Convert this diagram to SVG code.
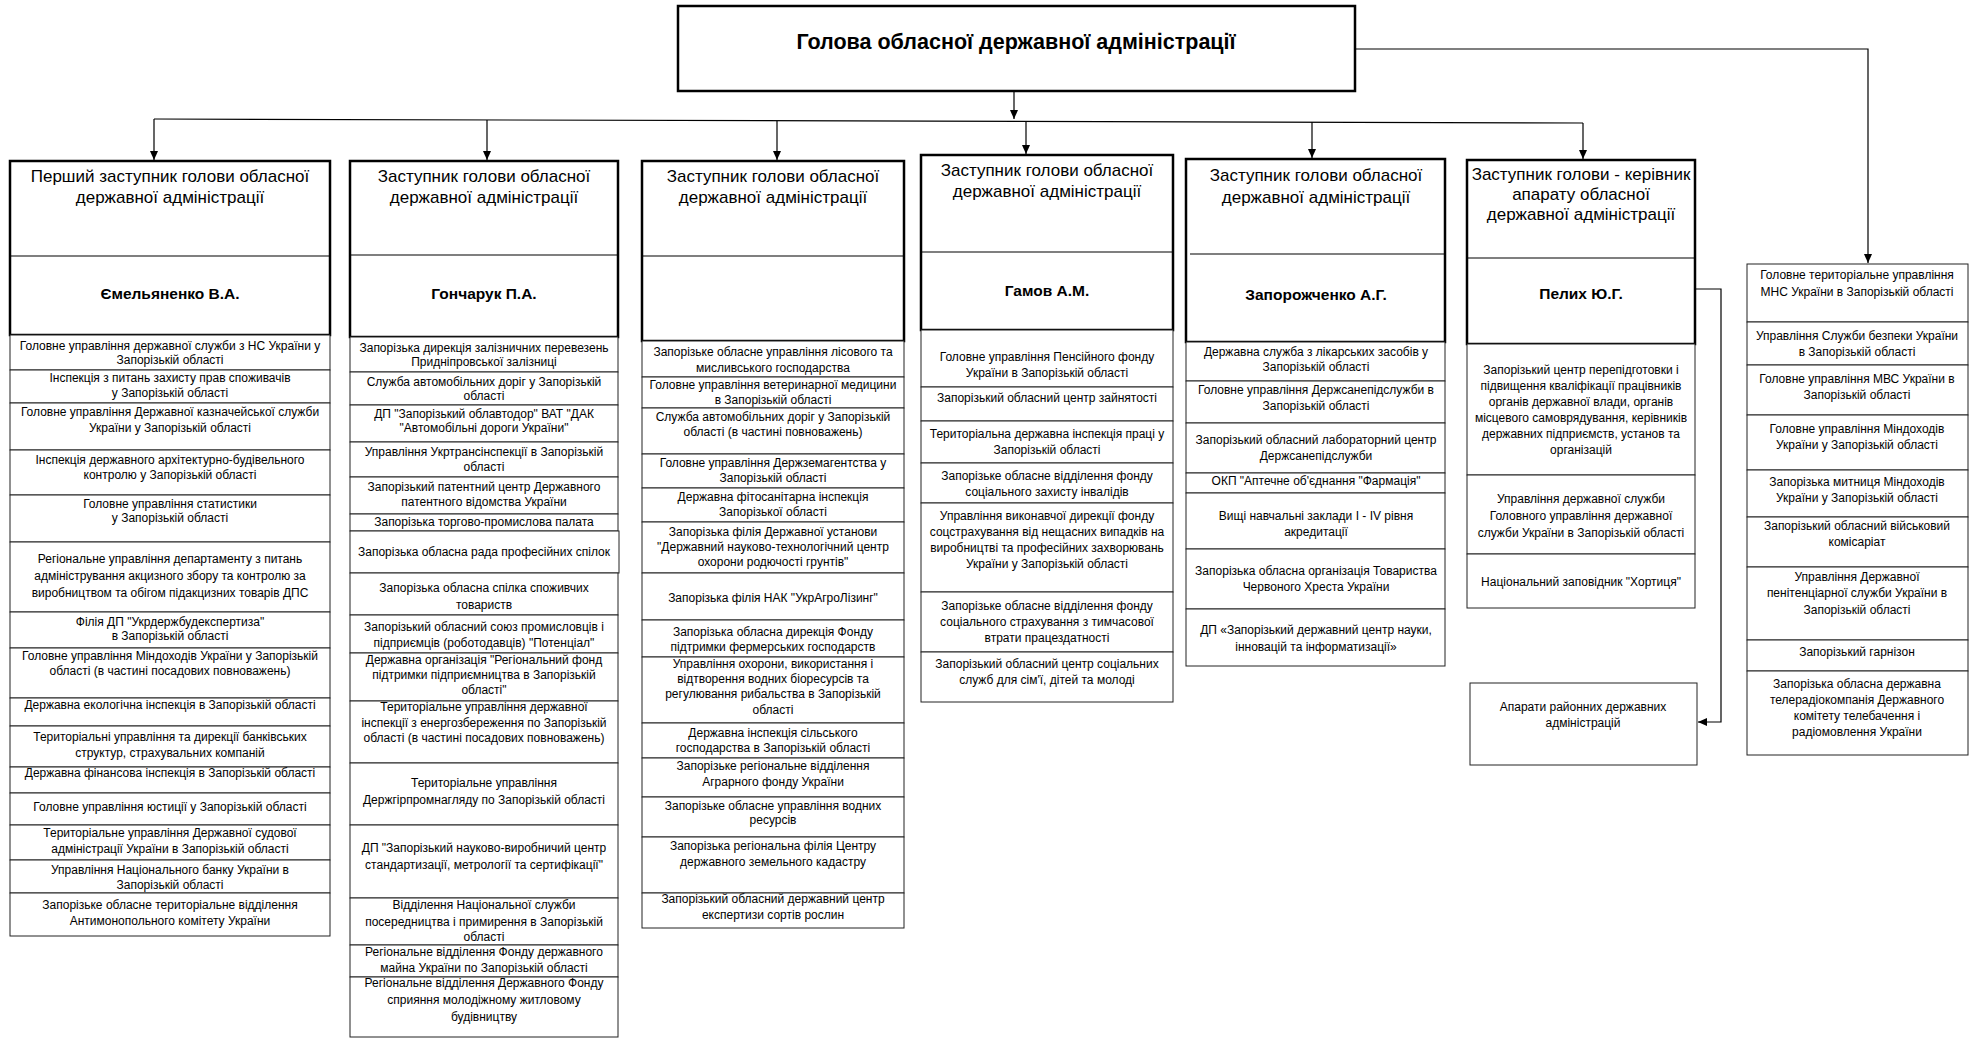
<svg xmlns="http://www.w3.org/2000/svg" width="1975" height="1039" viewBox="0 0 1975 1039">
<style>
.bg{fill:#fff}
.hdr{fill:#fff;stroke:#000;stroke-width:2.5}
.div{stroke:#000;stroke-width:1.2}
.row{fill:#fff;stroke:#222;stroke-width:1}
text{font-family:"Liberation Sans",Arial,sans-serif;text-anchor:middle;dominant-baseline:central;fill:#000}
.t{font-size:12px}
.h{font-size:17px}
.n{font-size:15.5px;font-weight:bold}
.ttl{font-size:21.5px;font-weight:bold}
.conn{stroke:#000;stroke-width:1.2;fill:none}
</style>
<defs>
<marker id="arr" markerUnits="userSpaceOnUse" markerWidth="10" markerHeight="10" refX="9" refY="5" orient="auto">
<path d="M0,1 L9,5 L0,9 z" fill="#000"/>
</marker>
</defs>
<rect class="bg" x="0" y="0" width="1975" height="1039"/>

<g id="connectors">
<line class="conn" x1="1014" y1="91" x2="1014" y2="119" marker-end="url(#arr)"/>
<line class="conn" x1="154" y1="119" x2="1583" y2="123"/>
<line class="conn" x1="154" y1="119" x2="154" y2="160" marker-end="url(#arr)"/>
<line class="conn" x1="487" y1="120" x2="487" y2="160" marker-end="url(#arr)"/>
<line class="conn" x1="777" y1="121" x2="777" y2="160" marker-end="url(#arr)"/>
<line class="conn" x1="1026" y1="121" x2="1026" y2="154" marker-end="url(#arr)"/>
<line class="conn" x1="1312" y1="122" x2="1312" y2="158" marker-end="url(#arr)"/>
<line class="conn" x1="1583" y1="123" x2="1583" y2="159" marker-end="url(#arr)"/>
<polyline class="conn" points="1355,49 1868,49 1868,263" marker-end="url(#arr)"/>
<polyline class="conn" points="1695,289 1721,289 1721,722 1698,722" marker-end="url(#arr)"/>
</g>

<g id="head">
<rect class="hdr" x="678" y="6" width="677" height="85" stroke-width="3"/>
<text class="ttl" x="1016" y="42">Голова обласної державної адміністрації</text>
</g>

<!-- Column 1 -->
<g id="c1h">
<rect class="hdr" x="10" y="161" width="320" height="174"/>
<line class="div" x1="10" y1="256" x2="330" y2="256"/>
<text class="h" x="170" y="176">Перший заступник голови обласної</text>
<text class="h" x="170" y="197">державної адміністрації</text>
<text class="n" x="170" y="293">Ємельяненко В.А.</text>
</g>
<g id="c1r1"><rect class="row" x="10" y="335" width="320" height="35"/><text class="t" x="170" y="346">Головне управління державної служби з НС України у</text><text class="t" x="170" y="360">Запорізькій області</text></g>
<g id="c1r2"><rect class="row" x="10" y="370" width="320" height="33"/><text class="t" x="170" y="378">Інспекція з питань захисту прав споживачів</text><text class="t" x="170" y="393">у Запорізькій області</text></g>
<g id="c1r3"><rect class="row" x="10" y="403" width="320" height="47"/><text class="t" x="170" y="412">Головне управління Державної казначейської служби</text><text class="t" x="170" y="428">України у Запорізькій області</text></g>
<g id="c1r4"><rect class="row" x="10" y="450" width="320" height="45"/><text class="t" x="170" y="460">Інспекція державного архітектурно-будівельного</text><text class="t" x="170" y="475">контролю у Запорізькій області</text></g>
<g id="c1r5"><rect class="row" x="10" y="495" width="320" height="47"/><text class="t" x="170" y="504">Головне управління статистики</text><text class="t" x="170" y="518">у Запорізькій області</text></g>
<g id="c1r6"><rect class="row" x="10" y="542" width="320" height="70"/><text class="t" x="170" y="559">Регіональне управління департаменту з питань</text><text class="t" x="170" y="576">адміністрування акцизного збору та контролю за</text><text class="t" x="170" y="593">виробництвом та обігом підакцизних товарів ДПС</text></g>
<g id="c1r7"><rect class="row" x="10" y="612" width="320" height="36"/><text class="t" x="170" y="622">Філія ДП "Укрдержбудекспертиза"</text><text class="t" x="170" y="636">в Запорізькій області</text></g>
<g id="c1r8"><rect class="row" x="10" y="648" width="320" height="50"/><text class="t" x="170" y="656">Головне управління Міндоходів України у Запорізькій</text><text class="t" x="170" y="671">області (в частині посадових повноважень)</text></g>
<g id="c1r9"><rect class="row" x="10" y="698" width="320" height="28"/><text class="t" x="170" y="705">Державна екологічна інспекція в Запорізькій області</text></g>
<g id="c1r10"><rect class="row" x="10" y="726" width="320" height="41"/><text class="t" x="170" y="737">Територіальні управління та дирекції банківських</text><text class="t" x="170" y="753">структур, страхувальних компаній</text></g>
<g id="c1r11"><rect class="row" x="10" y="767" width="320" height="26"/><text class="t" x="170" y="773">Державна фінансова інспекція в Запорізькій області</text></g>
<g id="c1r12"><rect class="row" x="10" y="793" width="320" height="32"/><text class="t" x="170" y="807">Головне управління юстиції у Запорізькій області</text></g>
<g id="c1r13"><rect class="row" x="10" y="825" width="320" height="35"/><text class="t" x="170" y="833">Територіальне управління Державної судової</text><text class="t" x="170" y="849">адміністрації України в Запорізькій області</text></g>
<g id="c1r14"><rect class="row" x="10" y="860" width="320" height="33"/><text class="t" x="170" y="870">Управління Національного банку України в</text><text class="t" x="170" y="885">Запорізькій області</text></g>
<g id="c1r15"><rect class="row" x="10" y="893" width="320" height="43"/><text class="t" x="170" y="905">Запорізьке обласне територіальне відділення</text><text class="t" x="170" y="921">Антимонопольного комітету України</text></g>

<!-- Column 2 -->
<g id="c2h">
<rect class="hdr" x="350" y="161" width="268" height="176"/>
<line class="div" x1="350" y1="255" x2="618" y2="255"/>
<text class="h" x="484" y="176">Заступник голови обласної</text>
<text class="h" x="484" y="197">державної адміністрації</text>
<text class="n" x="484" y="293">Гончарук П.А.</text>
</g>
<g id="c2r1"><rect class="row" x="350" y="337" width="268" height="35"/><text class="t" x="484" y="348">Запорізька дирекція залізничних перевезень</text><text class="t" x="484" y="362">Придніпровської залізниці</text></g>
<g id="c2r2"><rect class="row" x="350" y="372" width="268" height="33"/><text class="t" x="484" y="382">Служба автомобільних доріг  у Запорізькій</text><text class="t" x="484" y="396">області</text></g>
<g id="c2r3"><rect class="row" x="350" y="405" width="268" height="37"/><text class="t" x="484" y="414">ДП "Запорізький облавтодор" ВАТ "ДАК</text><text class="t" x="484" y="428">"Автомобільні дороги України"</text></g>
<g id="c2r4"><rect class="row" x="350" y="442" width="268" height="35"/><text class="t" x="484" y="452">Управління Укртрансінспекції  в Запорізькій</text><text class="t" x="484" y="467">області</text></g>
<g id="c2r5"><rect class="row" x="350" y="477" width="268" height="37"/><text class="t" x="484" y="487">Запорізький патентний центр Державного</text><text class="t" x="484" y="502">патентного відомства України</text></g>
<g id="c2r6"><rect class="row" x="350" y="514" width="268" height="17"/><text class="t" x="484" y="522">Запорізька торгово-промислова палата</text></g>
<g id="c2r7"><rect class="row" x="350" y="531" width="269" height="42"/><text class="t" x="484" y="552">Запорізька обласна рада професійних спілок</text></g>
<g id="c2r8"><rect class="row" x="350" y="573" width="268" height="42"/><text class="t" x="484" y="588">Запорізька обласна спілка споживчих</text><text class="t" x="484" y="605">товариств</text></g>
<g id="c2r9"><rect class="row" x="350" y="615" width="268" height="38"/><text class="t" x="484" y="627">Запорізький обласний союз промисловців і</text><text class="t" x="484" y="643">підприємців  (роботодавців) "Потенціал"</text></g>
<g id="c2r10"><rect class="row" x="350" y="653" width="268" height="48"/><text class="t" x="484" y="660">Державна організація "Регіональний фонд</text><text class="t" x="484" y="675">підтримки підприємництва в Запорізькій</text><text class="t" x="484" y="690">області"</text></g>
<g id="c2r11"><rect class="row" x="350" y="701" width="268" height="62"/><text class="t" x="484" y="707">Територіальне управління  державної</text><text class="t" x="484" y="723">інспекції з енергозбереження по Запорізькій</text><text class="t" x="484" y="738">області (в частині посадових повноважень)</text></g>
<g id="c2r12"><rect class="row" x="350" y="763" width="268" height="62"/><text class="t" x="484" y="783">Територіальне управління</text><text class="t" x="484" y="800">Держгірпромнагляду по Запорізькій області</text></g>
<g id="c2r13"><rect class="row" x="350" y="825" width="268" height="73"/><text class="t" x="484" y="848">ДП "Запорізький науково-виробничий центр</text><text class="t" x="484" y="865">стандартизації, метрології та сертифікації"</text></g>
<g id="c2r14"><rect class="row" x="350" y="898" width="268" height="47"/><text class="t" x="484" y="905">Відділення Національної служби</text><text class="t" x="484" y="922">посередництва і примирення в Запорізькій</text><text class="t" x="484" y="937">області</text></g>
<g id="c2r15"><rect class="row" x="350" y="945" width="268" height="32"/><text class="t" x="484" y="952">Регіональне відділення Фонду державного</text><text class="t" x="484" y="968">майна України  по Запорізькій області</text></g>
<g id="c2r16"><rect class="row" x="350" y="977" width="268" height="60"/><text class="t" x="484" y="983">Регіональне відділення Державного Фонду</text><text class="t" x="484" y="1000">сприяння молодіжному житловому</text><text class="t" x="484" y="1017">будівництву</text></g>

<!-- Column 3 -->
<g id="c3h">
<rect class="hdr" x="642" y="161" width="262" height="180"/>
<line class="div" x1="642" y1="256" x2="904" y2="256"/>
<text class="h" x="773" y="176">Заступник голови обласної</text>
<text class="h" x="773" y="197">державної адміністрації</text>
</g>
<g id="c3r1"><rect class="row" x="642" y="341" width="262" height="36"/><text class="t" x="773" y="352">Запорізьке обласне управління лісового та</text><text class="t" x="773" y="368">мисливського господарства</text></g>
<g id="c3r2"><rect class="row" x="642" y="377" width="262" height="31"/><text class="t" x="773" y="385">Головне управління ветеринарної медицини</text><text class="t" x="773" y="400">в Запорізькій області</text></g>
<g id="c3r3"><rect class="row" x="642" y="408" width="262" height="46"/><text class="t" x="773" y="417">Служба автомобільних доріг  у Запорізькій</text><text class="t" x="773" y="432">області (в частині повноважень)</text></g>
<g id="c3r4"><rect class="row" x="642" y="454" width="262" height="34"/><text class="t" x="773" y="463">Головне управління Держземагентства у</text><text class="t" x="773" y="478">Запорізькій області</text></g>
<g id="c3r5"><rect class="row" x="642" y="488" width="262" height="34"/><text class="t" x="773" y="497">Державна фітосанітарна інспекція</text><text class="t" x="773" y="512">Запорізької області</text></g>
<g id="c3r6"><rect class="row" x="642" y="522" width="262" height="51"/><text class="t" x="773" y="532">Запорізька філія Державної установи</text><text class="t" x="773" y="547">"Державний науково-технологічний центр</text><text class="t" x="773" y="562">охорони родючості грунтів"</text></g>
<g id="c3r7"><rect class="row" x="642" y="573" width="262" height="47"/><text class="t" x="773" y="598">Запорізька філія НАК "УкрАгроЛізинг"</text></g>
<g id="c3r8"><rect class="row" x="642" y="620" width="262" height="37"/><text class="t" x="773" y="632">Запорізька обласна дирекція Фонду</text><text class="t" x="773" y="647">підтримки фермерських господарств</text></g>
<g id="c3r9"><rect class="row" x="642" y="657" width="262" height="66"/><text class="t" x="773" y="664">Управління охорони, використання і</text><text class="t" x="773" y="679">відтворення водних біоресурсів та</text><text class="t" x="773" y="694">регулювання рибальства в Запорізькій</text><text class="t" x="773" y="710">області</text></g>
<g id="c3r10"><rect class="row" x="642" y="723" width="262" height="35"/><text class="t" x="773" y="733">Державна інспекція сільського</text><text class="t" x="773" y="748">господарства в Запорізькій області</text></g>
<g id="c3r11"><rect class="row" x="642" y="758" width="262" height="39"/><text class="t" x="773" y="766">Запорізьке регіональне відділення</text><text class="t" x="773" y="782">Аграрного фонду України</text></g>
<g id="c3r12"><rect class="row" x="642" y="797" width="262" height="40"/><text class="t" x="773" y="806">Запорізьке обласне  управління  водних</text><text class="t" x="773" y="820">ресурсів</text></g>
<g id="c3r13"><rect class="row" x="642" y="837" width="262" height="56"/><text class="t" x="773" y="846">Запорізька регіональна філія Центру</text><text class="t" x="773" y="862">державного земельного кадастру</text></g>
<g id="c3r14"><rect class="row" x="642" y="893" width="262" height="35"/><text class="t" x="773" y="899">Запорізький обласний державний центр</text><text class="t" x="773" y="915">експертизи сортів рослин</text></g>

<!-- Column 4 -->
<g id="c4h">
<rect class="hdr" x="921" y="155" width="252" height="175"/>
<line class="div" x1="921" y1="252" x2="1173" y2="252"/>
<text class="h" x="1047" y="170">Заступник голови обласної</text>
<text class="h" x="1047" y="191">державної адміністрації</text>
<text class="n" x="1047" y="290">Гамов А.М.</text>
</g>
<g id="c4r1"><rect class="row" x="921" y="330" width="252" height="57"/><text class="t" x="1047" y="357">Головне управління Пенсійного фонду</text><text class="t" x="1047" y="373">України в Запорізькій області</text></g>
<g id="c4r2"><rect class="row" x="921" y="387" width="252" height="34"/><text class="t" x="1047" y="398">Запорізький обласний центр зайнятості</text></g>
<g id="c4r3"><rect class="row" x="921" y="421" width="252" height="42"/><text class="t" x="1047" y="434">Територіальна державна інспекція праці у</text><text class="t" x="1047" y="450">Запорізькій області</text></g>
<g id="c4r4"><rect class="row" x="921" y="463" width="252" height="40"/><text class="t" x="1047" y="476">Запорізьке обласне відділення фонду</text><text class="t" x="1047" y="492">соціального захисту інвалідів</text></g>
<g id="c4r5"><rect class="row" x="921" y="503" width="252" height="89"/><text class="t" x="1047" y="516">Управління виконавчої дирекції фонду</text><text class="t" x="1047" y="532">соцстрахування від нещасних випадків на</text><text class="t" x="1047" y="548">виробництві та професійних захворювань</text><text class="t" x="1047" y="564">України у Запорізькій області</text></g>
<g id="c4r6"><rect class="row" x="921" y="592" width="252" height="60"/><text class="t" x="1047" y="606">Запорізьке обласне відділення фонду</text><text class="t" x="1047" y="622">соціального страхування з тимчасової</text><text class="t" x="1047" y="638">втрати працездатності</text></g>
<g id="c4r7"><rect class="row" x="921" y="652" width="252" height="50"/><text class="t" x="1047" y="664">Запорізький обласний центр соціальних</text><text class="t" x="1047" y="680">служб для сім'ї, дітей та молоді</text></g>

<!-- Column 5 -->
<g id="c5h">
<rect class="hdr" x="1186" y="159" width="259" height="183"/>
<line class="div" x1="1190" y1="254" x2="1445" y2="254"/>
<text class="h" x="1316" y="175">Заступник голови обласної</text>
<text class="h" x="1316" y="197">державної адміністрації</text>
<text class="n" x="1316" y="294">Запорожченко А.Г.</text>
</g>
<g id="c5r1"><rect class="row" x="1186" y="342" width="259" height="39"/><text class="t" x="1316" y="352">Державна служба з лікарських засобів у</text><text class="t" x="1316" y="367">Запорізькій області</text></g>
<g id="c5r2"><rect class="row" x="1186" y="381" width="259" height="42"/><text class="t" x="1316" y="390">Головне управління Держсанепідслужби в</text><text class="t" x="1316" y="406">Запорізькій області</text></g>
<g id="c5r3"><rect class="row" x="1186" y="423" width="259" height="50"/><text class="t" x="1316" y="440">Запорізький обласний лабораторний центр</text><text class="t" x="1316" y="456">Держсанепідслужби</text></g>
<g id="c5r4"><rect class="row" x="1186" y="473" width="259" height="20"/><text class="t" x="1316" y="481">ОКП "Аптечне об'єднання "Фармація"</text></g>
<g id="c5r5"><rect class="row" x="1186" y="493" width="259" height="56"/><text class="t" x="1316" y="516">Вищі навчальні заклади І - IV рівня</text><text class="t" x="1316" y="532">акредитації</text></g>
<g id="c5r6"><rect class="row" x="1186" y="549" width="259" height="60"/><text class="t" x="1316" y="571">Запорізька обласна організація Товариства</text><text class="t" x="1316" y="587">Червоного Хреста України</text></g>
<g id="c5r7"><rect class="row" x="1186" y="609" width="259" height="57"/><text class="t" x="1316" y="630">ДП «Запорізький державний центр науки,</text><text class="t" x="1316" y="647">інновацій та інформатизації»</text></g>

<!-- Column 6 -->
<g id="c6h">
<rect class="hdr" x="1467" y="160" width="228" height="184"/>
<line class="div" x1="1467" y1="258" x2="1695" y2="258"/>
<text class="h" x="1581" y="174">Заступник голови - керівник</text>
<text class="h" x="1581" y="194">апарату обласної</text>
<text class="h" x="1581" y="214">державної адміністрації</text>
<text class="n" x="1581" y="293">Пелих Ю.Г.</text>
</g>
<g id="c6r1"><rect class="row" x="1467" y="344" width="228" height="131"/><text class="t" x="1581" y="370">Запорізький центр перепідготовки і</text><text class="t" x="1581" y="386">підвищення кваліфікації працівників</text><text class="t" x="1581" y="402">органів державної влади, органів</text><text class="t" x="1581" y="418">місцевого самоврядування, керівників</text><text class="t" x="1581" y="434">державних підприємств, установ та</text><text class="t" x="1581" y="450">організацій</text></g>
<g id="c6r2"><rect class="row" x="1467" y="475" width="228" height="79"/><text class="t" x="1581" y="499">Управління державної служби</text><text class="t" x="1581" y="516">Головного управління державної</text><text class="t" x="1581" y="533">служби України в Запорізькій області</text></g>
<g id="c6r3"><rect class="row" x="1467" y="554" width="228" height="54"/><text class="t" x="1581" y="582">Національний заповідник "Хортиця"</text></g>
<g id="c6r4"><rect class="row" x="1470" y="683" width="227" height="82"/><text class="t" x="1583" y="707">Апарати районних державних</text><text class="t" x="1583" y="723">адміністрацій</text></g>

<!-- Column 7 -->
<g id="c7r1"><rect class="row" x="1747" y="264" width="221" height="58"/><text class="t" x="1857" y="275">Головне територіальне управління</text><text class="t" x="1857" y="292">МНС України в Запорізькій області</text></g>
<g id="c7r2"><rect class="row" x="1747" y="322" width="221" height="43"/><text class="t" x="1857" y="336">Управління Служби безпеки  України</text><text class="t" x="1857" y="352">в Запорізькій області</text></g>
<g id="c7r3"><rect class="row" x="1747" y="365" width="221" height="50"/><text class="t" x="1857" y="379">Головне управління МВС України в</text><text class="t" x="1857" y="395">Запорізькій області</text></g>
<g id="c7r4"><rect class="row" x="1747" y="415" width="221" height="55"/><text class="t" x="1857" y="429">Головне управління Міндоходів</text><text class="t" x="1857" y="445">України у Запорізькій області</text></g>
<g id="c7r5"><rect class="row" x="1747" y="470" width="221" height="47"/><text class="t" x="1857" y="482">Запорізька митниця Міндоходів</text><text class="t" x="1857" y="498">України у Запорізькій області</text></g>
<g id="c7r6"><rect class="row" x="1747" y="517" width="221" height="50"/><text class="t" x="1857" y="526">Запорізький обласний військовий</text><text class="t" x="1857" y="542">комісаріат</text></g>
<g id="c7r7"><rect class="row" x="1747" y="567" width="221" height="73"/><text class="t" x="1857" y="577">Управління Державної</text><text class="t" x="1857" y="593">пенітенціарної служби України в</text><text class="t" x="1857" y="610">Запорізькій області</text></g>
<g id="c7r8"><rect class="row" x="1747" y="640" width="221" height="31"/><text class="t" x="1857" y="652">Запорізький гарнізон</text></g>
<g id="c7r9"><rect class="row" x="1747" y="671" width="221" height="84"/><text class="t" x="1857" y="684">Запорізька обласна державна</text><text class="t" x="1857" y="700">телерадіокомпанія Державного</text><text class="t" x="1857" y="716">комітету телебачення і</text><text class="t" x="1857" y="732">радіомовлення України</text></g>
</svg>
